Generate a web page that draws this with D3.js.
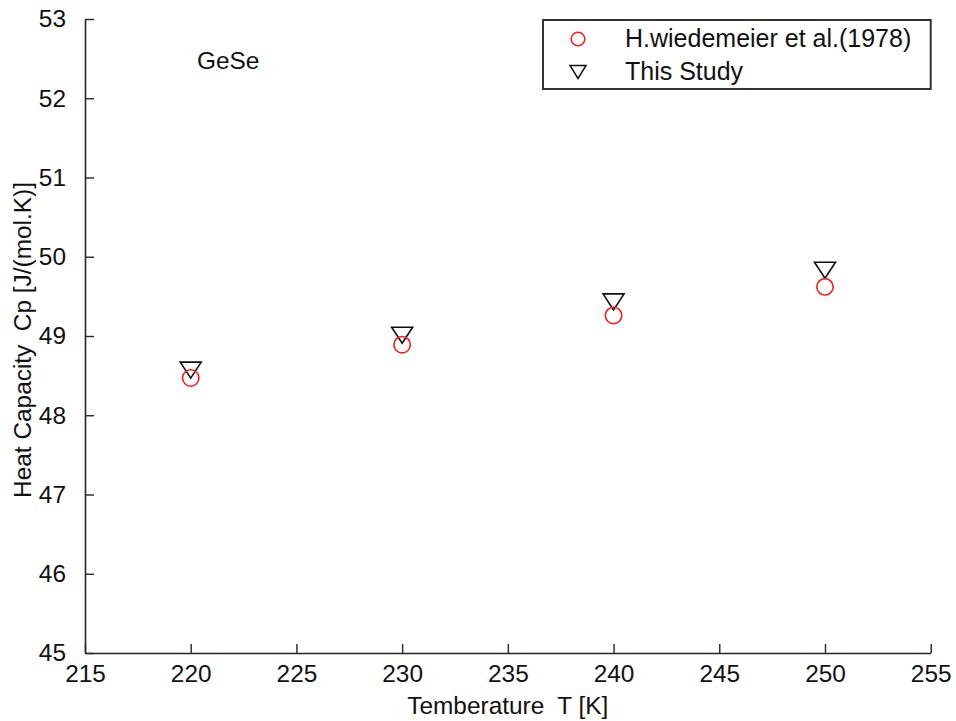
<!DOCTYPE html>
<html>
<head>
<meta charset="utf-8">
<script src="https://cdn.jsdelivr.net/npm/d3@7"></script>
<style>
  html, body { margin: 0; padding: 0; background: #fff; }
  svg { display: block; }
  text { font-family: "Liberation Sans", Arial, sans-serif; fill: #111; white-space: pre; }
</style>
</head>
<body>
<svg id="chart" width="956" height="721"></svg>
<script>
// Temperatures (K) and heat capacity values (J/(mol.K))
const temperatures = [220, 230, 240, 250];
const wiedemeierCp = [48.47, 48.89, 49.26, 49.62];
const thisStudyCp  = [48.57, 49.01, 49.43, 49.83];

const xTicks = [215, 220, 225, 230, 235, 240, 245, 250, 255];
const yTicks = [45, 46, 47, 48, 49, 50, 51, 52, 53];

const seriesNames = ["H.wiedemeier et al.(1978)", "This Study"];

const svg = d3.select("#chart");
const plotLeft = 85, plotRight = 930.7, plotTop = 19, plotBottom = 653;

const x = d3.scaleLinear().domain([215, 255]).range([plotLeft, plotRight]);
const y = d3.scaleLinear().domain([45, 53]).range([plotBottom, plotTop]);

const fontSize = 24.4;
const axisColor = "#262626";

// x axis with inward ticks
const xAxis = svg.append("g")
  .attr("transform", `translate(0,${plotBottom})`)
  .call(d3.axisBottom(x).tickValues(xTicks).tickSizeInner(-9).tickSizeOuter(0).tickPadding(20));
// y axis with inward ticks
const yAxis = svg.append("g")
  .attr("transform", `translate(${plotLeft},0)`)
  .call(d3.axisLeft(y).tickValues(yTicks).tickSizeInner(-9).tickSizeOuter(0).tickPadding(19));

[xAxis, yAxis].forEach(g => {
  g.select(".domain").attr("stroke", axisColor).attr("stroke-width", 1.6);
  g.selectAll(".tick line").attr("stroke", axisColor).attr("stroke-width", 1.4);
  g.selectAll(".tick text")
    .attr("font-size", fontSize)
    .attr("font-family", "Liberation Sans, Arial, sans-serif")
    .attr("fill", "#111");
});
xAxis.selectAll(".tick text").attr("dy", "0.35em");

// Axis titles
svg.append("text")
  .attr("x", (plotLeft + plotRight) / 2)
  .attr("y", 714)
  .attr("text-anchor", "middle")
  .attr("font-size", fontSize)
  .text("Temberature  T [K]");

svg.append("text")
  .attr("transform", `translate(31,${(plotTop + plotBottom) / 2 + 4}) rotate(-90)`)
  .attr("text-anchor", "middle")
  .attr("font-size", fontSize)
  .text("Heat Capacity  Cp [J/(mol.K)]");

// Material annotation
svg.append("text")
  .attr("x", 197)
  .attr("y", 69)
  .attr("font-size", fontSize)
  .text("GeSe");

// Marker shapes
const triW = 21, triH = 16;
function triPath(cx, cy, w, h) {
  return `M${cx - w / 2},${cy - h / 2}L${cx + w / 2},${cy - h / 2}L${cx},${cy + h / 2}Z`;
}

// This Study: downward triangles
svg.append("g").selectAll("path")
  .data(temperatures.map((t, i) => [t, thisStudyCp[i]]))
  .join("path")
  .attr("d", d => triPath(x(d[0]), y(d[1]), triW, triH))
  .attr("fill", "none")
  .attr("stroke", "#111")
  .attr("stroke-width", 1.6);

// Wiedemeier et al.: red open circles
svg.append("g").selectAll("circle")
  .data(temperatures.map((t, i) => [t, wiedemeierCp[i]]))
  .join("circle")
  .attr("cx", d => x(d[0]))
  .attr("cy", d => y(d[1]))
  .attr("r", 8.2)
  .attr("fill", "none")
  .attr("stroke", "#ff1a1a")
  .attr("stroke-width", 1.6);

// Legend
const legend = svg.append("g");
legend.append("rect")
  .attr("x", 543).attr("y", 20)
  .attr("width", plotRight - 543).attr("height", 69)
  .attr("fill", "#fff")
  .attr("stroke", "#333")
  .attr("stroke-width", 2);

legend.append("circle")
  .attr("cx", 578).attr("cy", 39).attr("r", 6.8)
  .attr("fill", "none").attr("stroke", "#ff1a1a").attr("stroke-width", 1.5);
legend.append("path")
  .attr("d", triPath(578, 72, 16, 13))
  .attr("fill", "none").attr("stroke", "#111").attr("stroke-width", 1.5);

legend.selectAll("text.lbl")
  .data(seriesNames)
  .join("text")
  .attr("class", "lbl")
  .attr("x", 625)
  .attr("y", (d, i) => 47 + i * 33)
  .attr("font-size", 25)
  .text(d => d);
</script>
</body>
</html>
